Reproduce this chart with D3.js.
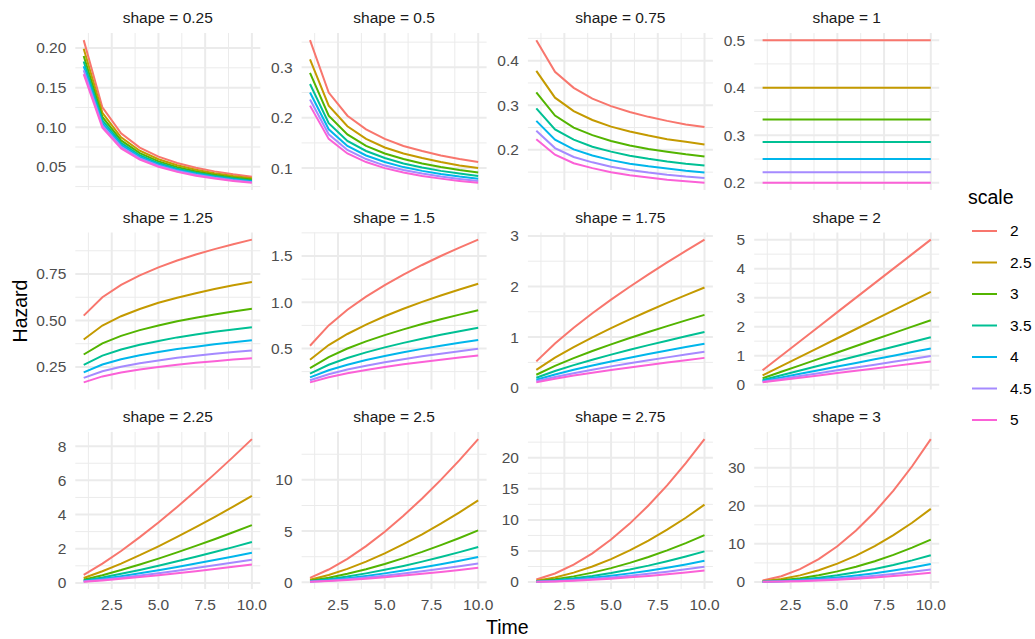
<!DOCTYPE html>
<html>
<head>
<meta charset="utf-8">
<script src="https://cdn.jsdelivr.net/npm/d3@7/dist/d3.min.js"></script>
<style>
  body { margin: 0; background: #fff; }
  text { font-family: "Liberation Sans", Arial, sans-serif; }
</style>
</head>
<body>
<script>
// weibull hazard by shape (facets) and scale (colour)
var times = [1, 2, 3, 4, 5, 6, 7, 8, 9, 10];
var scales = ["2", "2.5", "3", "3.5", "4", "4.5", "5"];
var shapes = ["0.25", "0.5", "0.75", "1", "1.25", "1.5", "1.75", "2", "2.25", "2.5", "2.75", "3"];
var colors = ["#F8766D", "#C49A00", "#53B400", "#00C094", "#00B6EB", "#A58AFF", "#FB61D7"];

// one row per scale, one value per time
var haz025 = [
  [0.210, 0.125, 0.0922, 0.0743, 0.0629, 0.0548, 0.0488, 0.0442, 0.0405, 0.0374],
  [0.199, 0.1182, 0.0872, 0.0703, 0.0595, 0.0519, 0.0462, 0.0418, 0.0383, 0.0354],
  [0.190, 0.1130, 0.0833, 0.0672, 0.0568, 0.0496, 0.0441, 0.0399, 0.0366, 0.0338],
  [0.183, 0.1087, 0.0802, 0.0646, 0.0547, 0.0477, 0.0425, 0.0384, 0.0352, 0.0325],
  [0.177, 0.1051, 0.0776, 0.0625, 0.0529, 0.0461, 0.0411, 0.0372, 0.0340, 0.0314],
  [0.172, 0.1021, 0.0753, 0.0607, 0.0513, 0.0448, 0.0399, 0.0361, 0.0330, 0.0305],
  [0.167, 0.0994, 0.0733, 0.0591, 0.0500, 0.0436, 0.0388, 0.0351, 0.0322, 0.0297]
];
var haz05 = [
  [0.354, 0.250, 0.204, 0.177, 0.158, 0.144, 0.134, 0.125, 0.118, 0.112],
  [0.316, 0.224, 0.183, 0.158, 0.141, 0.129, 0.120, 0.112, 0.105, 0.100],
  [0.289, 0.204, 0.167, 0.144, 0.129, 0.118, 0.109, 0.102, 0.0962, 0.0913],
  [0.267, 0.189, 0.154, 0.134, 0.120, 0.109, 0.101, 0.0945, 0.0891, 0.0845],
  [0.250, 0.177, 0.144, 0.125, 0.112, 0.102, 0.0945, 0.0884, 0.0833, 0.0791],
  [0.236, 0.167, 0.136, 0.118, 0.105, 0.0962, 0.0891, 0.0833, 0.0786, 0.0745],
  [0.224, 0.158, 0.129, 0.112, 0.100, 0.0913, 0.0845, 0.0791, 0.0745, 0.0707]
];
var haz075 = [
  [0.446, 0.375, 0.339, 0.315, 0.298, 0.285, 0.274, 0.265, 0.257, 0.251],
  [0.377, 0.317, 0.287, 0.267, 0.252, 0.241, 0.232, 0.224, 0.218, 0.212],
  [0.329, 0.277, 0.250, 0.233, 0.220, 0.210, 0.202, 0.196, 0.190, 0.185],
  [0.293, 0.246, 0.223, 0.207, 0.196, 0.187, 0.180, 0.174, 0.169, 0.165],
  [0.265, 0.223, 0.201, 0.1875, 0.177, 0.169, 0.163, 0.158, 0.153, 0.149],
  [0.243, 0.204, 0.184, 0.172, 0.162, 0.155, 0.149, 0.144, 0.140, 0.137],
  [0.224, 0.189, 0.170, 0.159, 0.150, 0.143, 0.138, 0.133, 0.1295, 0.126]
];
var haz1 = [
  [0.5, 0.5, 0.5, 0.5, 0.5, 0.5, 0.5, 0.5, 0.5, 0.5],
  [0.4, 0.4, 0.4, 0.4, 0.4, 0.4, 0.4, 0.4, 0.4, 0.4],
  [0.3333, 0.3333, 0.3333, 0.3333, 0.3333, 0.3333, 0.3333, 0.3333, 0.3333, 0.3333],
  [0.2857, 0.2857, 0.2857, 0.2857, 0.2857, 0.2857, 0.2857, 0.2857, 0.2857, 0.2857],
  [0.25, 0.25, 0.25, 0.25, 0.25, 0.25, 0.25, 0.25, 0.25, 0.25],
  [0.2222, 0.2222, 0.2222, 0.2222, 0.2222, 0.2222, 0.2222, 0.2222, 0.2222, 0.2222],
  [0.2, 0.2, 0.2, 0.2, 0.2, 0.2, 0.2, 0.2, 0.2, 0.2]
];
var haz125 = [
  [0.526, 0.625, 0.692, 0.743, 0.786, 0.823, 0.855, 0.884, 0.910, 0.935],
  [0.398, 0.473, 0.523, 0.562, 0.595, 0.622, 0.647, 0.669, 0.689, 0.707],
  [0.317, 0.377, 0.417, 0.448, 0.473, 0.496, 0.515, 0.532, 0.548, 0.563],
  [0.261, 0.311, 0.344, 0.369, 0.390, 0.409, 0.425, 0.439, 0.452, 0.464],
  [0.221, 0.263, 0.291, 0.3125, 0.330, 0.346, 0.359, 0.372, 0.383, 0.393],
  [0.191, 0.227, 0.251, 0.270, 0.285, 0.299, 0.310, 0.321, 0.330, 0.339],
  [0.167, 0.199, 0.220, 0.236, 0.250, 0.262, 0.272, 0.281, 0.290, 0.297]
];
var haz15 = [
  [0.530, 0.750, 0.919, 1.061, 1.186, 1.299, 1.403, 1.500, 1.591, 1.677],
  [0.379, 0.537, 0.657, 0.759, 0.849, 0.930, 1.004, 1.073, 1.138, 1.200],
  [0.289, 0.408, 0.500, 0.577, 0.645, 0.707, 0.764, 0.816, 0.866, 0.913],
  [0.229, 0.324, 0.397, 0.458, 0.512, 0.561, 0.606, 0.648, 0.687, 0.724],
  [0.1875, 0.265, 0.325, 0.375, 0.419, 0.459, 0.496, 0.530, 0.5625, 0.593],
  [0.157, 0.222, 0.272, 0.314, 0.351, 0.385, 0.416, 0.444, 0.471, 0.497],
  [0.134, 0.190, 0.232, 0.268, 0.300, 0.329, 0.355, 0.379, 0.402, 0.424]
];
var haz175 = [
  [0.520, 0.875, 1.186, 1.472, 1.740, 1.995, 2.239, 2.475, 2.703, 2.926],
  [0.352, 0.592, 0.803, 0.996, 1.177, 1.350, 1.515, 1.675, 1.830, 1.980],
  [0.256, 0.430, 0.583, 0.724, 0.856, 0.981, 1.101, 1.217, 1.330, 1.439],
  [0.195, 0.329, 0.445, 0.553, 0.653, 0.749, 0.841, 0.929, 1.015, 1.099],
  [0.155, 0.260, 0.353, 0.4375, 0.517, 0.593, 0.666, 0.736, 0.804, 0.870],
  [0.126, 0.212, 0.287, 0.356, 0.421, 0.483, 0.542, 0.599, 0.654, 0.708],
  [0.105, 0.176, 0.239, 0.296, 0.350, 0.401, 0.450, 0.498, 0.544, 0.589]
];
var haz2 = [
  [0.5, 1.0, 1.5, 2.0, 2.5, 3.0, 3.5, 4.0, 4.5, 5.0],
  [0.32, 0.64, 0.96, 1.28, 1.6, 1.92, 2.24, 2.56, 2.88, 3.2],
  [0.222, 0.444, 0.667, 0.889, 1.111, 1.333, 1.556, 1.778, 2.0, 2.222],
  [0.163, 0.327, 0.490, 0.653, 0.816, 0.980, 1.143, 1.306, 1.469, 1.633],
  [0.125, 0.25, 0.375, 0.5, 0.625, 0.75, 0.875, 1.0, 1.125, 1.25],
  [0.0988, 0.198, 0.296, 0.395, 0.494, 0.593, 0.691, 0.790, 0.889, 0.988],
  [0.08, 0.16, 0.24, 0.32, 0.40, 0.48, 0.56, 0.64, 0.72, 0.80]
];
var haz225 = [
  [0.473, 1.125, 1.868, 2.676, 3.537, 4.442, 5.386, 6.364, 7.373, 8.411],
  [0.286, 0.681, 1.130, 1.620, 2.141, 2.688, 3.260, 3.852, 4.463, 5.091],
  [0.190, 0.452, 0.750, 1.075, 1.420, 1.784, 2.163, 2.556, 2.961, 3.378],
  [0.134, 0.319, 0.530, 0.760, 1.004, 1.261, 1.529, 1.807, 2.093, 2.388],
  [0.0994, 0.2365, 0.393, 0.5625, 0.743, 0.934, 1.132, 1.338, 1.550, 1.768],
  [0.0763, 0.181, 0.301, 0.432, 0.570, 0.716, 0.869, 1.026, 1.189, 1.357],
  [0.0602, 0.143, 0.238, 0.340, 0.450, 0.565, 0.685, 0.810, 0.938, 1.070]
];
var haz25 = [
  [0.442, 1.250, 2.296, 3.536, 4.941, 6.495, 8.185, 10.000, 11.932, 13.975],
  [0.253, 0.716, 1.315, 2.024, 2.828, 3.718, 4.685, 5.724, 6.831, 8.000],
  [0.160, 0.454, 0.833, 1.283, 1.793, 2.357, 2.970, 3.629, 4.330, 5.071],
  [0.109, 0.309, 0.567, 0.873, 1.220, 1.603, 2.020, 2.468, 2.945, 3.450],
  [0.0781, 0.221, 0.406, 0.625, 0.873, 1.148, 1.447, 1.768, 2.109, 2.471],
  [0.0582, 0.165, 0.302, 0.466, 0.651, 0.855, 1.078, 1.317, 1.571, 1.840],
  [0.0447, 0.126, 0.232, 0.358, 0.500, 0.657, 0.828, 1.012, 1.207, 1.414]
];
var haz275 = [
  [0.409, 1.375, 2.796, 4.625, 6.834, 9.403, 12.315, 15.556, 19.117, 22.988],
  [0.221, 0.744, 1.513, 2.504, 3.700, 5.091, 6.667, 8.422, 10.349, 12.445],
  [0.134, 0.451, 0.917, 1.517, 2.241, 3.083, 4.038, 5.101, 6.269, 7.538],
  [0.0877, 0.295, 0.600, 0.993, 1.467, 2.018, 2.643, 3.339, 4.103, 4.933],
  [0.0608, 0.204, 0.416, 0.6875, 1.016, 1.398, 1.831, 2.312, 2.842, 3.417],
  [0.0440, 0.148, 0.301, 0.497, 0.735, 1.011, 1.324, 1.673, 2.056, 2.472],
  [0.0329, 0.111, 0.225, 0.372, 0.550, 0.757, 0.991, 1.252, 1.538, 1.850]
];
var haz3 = [
  [0.375, 1.5, 3.375, 6.0, 9.375, 13.5, 18.375, 24.0, 30.375, 37.5],
  [0.192, 0.768, 1.728, 3.072, 4.8, 6.912, 9.408, 12.288, 15.552, 19.2],
  [0.111, 0.444, 1.0, 1.778, 2.778, 4.0, 5.444, 7.111, 9.0, 11.111],
  [0.070, 0.280, 0.630, 1.120, 1.749, 2.519, 3.429, 4.478, 5.668, 6.997],
  [0.0469, 0.1875, 0.422, 0.75, 1.172, 1.6875, 2.297, 3.0, 3.797, 4.6875],
  [0.0329, 0.132, 0.296, 0.527, 0.823, 1.185, 1.613, 2.107, 2.667, 3.292],
  [0.024, 0.096, 0.216, 0.384, 0.6, 0.864, 1.176, 1.536, 1.944, 2.4]
];
var hazards = [haz025, haz05, haz075, haz1, haz125, haz15, haz175, haz2, haz225, haz25, haz275, haz3];

var yTickLabels = [
  ["0.05", "0.10", "0.15", "0.20"],
  ["0.1", "0.2", "0.3"],
  ["0.2", "0.3", "0.4"],
  ["0.2", "0.3", "0.4", "0.5"],
  ["0.25", "0.50", "0.75"],
  ["0.5", "1.0", "1.5"],
  ["0", "1", "2", "3"],
  ["0", "1", "2", "3", "4", "5"],
  ["0", "2", "4", "6", "8"],
  ["0", "5", "10"],
  ["0", "5", "10", "15", "20"],
  ["0", "10", "20", "30"]
];
var xTickLabels = ["2.5", "5.0", "7.5", "10.0"];

var W = 1035, H = 639;
var panelW = 185, panelH = 157;
var left0 = 75.3, colStep = 226.3;
var top0 = 33, rowStep = 199.5;
var grid = "#EBEBEB";

var svg = d3.select("body").append("svg")
  .attr("width", W)
  .attr("height", H);

var x = d3.scaleLinear()
  .domain([1 - 0.45, 10 + 0.45])
  .range([0, panelW]);

var xMajor = xTickLabels.map(Number);
var xMinor = [1.25, 3.75, 6.25, 8.75];

shapes.forEach(function(shape, i){
  var col = i % 4, row = Math.floor(i / 4);
  var g = svg.append("g")
    .attr("transform", "translate(" + (left0 + col * colStep) + "," + (top0 + row * rowStep) + ")");

  var data = hazards[i];
  var lo = d3.min(data, function(s){ return d3.min(s); }),
      hi = d3.max(data, function(s){ return d3.max(s); });
  var pad = (hi - lo) * 0.05;
  var y = d3.scaleLinear().domain([lo - pad, hi + pad]).range([panelH, 0]);

  var yMajor = yTickLabels[i].map(Number);
  var step = yMajor[1] - yMajor[0];
  var yMinor = [];
  for (var k = -1; k < yMajor.length; k++){
    var v = yMajor[0] + step * (k + 0.5);
    if (v >= lo - pad && v <= hi + pad) yMinor.push(v);
  }

  // minor grid
  g.selectAll(".ymin").data(yMinor).enter().append("line")
    .attr("x1", 0).attr("x2", panelW)
    .attr("y1", y).attr("y2", y)
    .attr("stroke", grid).attr("stroke-width", 1);
  g.selectAll(".xmin").data(xMinor).enter().append("line")
    .attr("x1", x).attr("x2", x)
    .attr("y1", 0).attr("y2", panelH)
    .attr("stroke", grid).attr("stroke-width", 1);
  // major grid
  g.selectAll(".ymaj").data(yMajor).enter().append("line")
    .attr("x1", 0).attr("x2", panelW)
    .attr("y1", y).attr("y2", y)
    .attr("stroke", grid).attr("stroke-width", 2);
  g.selectAll(".xmaj").data(xMajor).enter().append("line")
    .attr("x1", x).attr("x2", x)
    .attr("y1", 0).attr("y2", panelH)
    .attr("stroke", grid).attr("stroke-width", 2);

  // y tick labels
  g.selectAll(".ylab").data(yTickLabels[i]).enter().append("text")
    .attr("x", -9)
    .attr("y", function(d){ return y(+d); })
    .attr("dy", "0.35em")
    .attr("text-anchor", "end")
    .attr("font-size", 15.5)
    .attr("fill", "#4D4D4D")
    .text(function(d){ return d; });

  // x tick labels only for bottom row
  if (row == 2){
    g.selectAll(".xlab").data(xTickLabels).enter().append("text")
      .attr("x", function(d){ return x(+d); })
      .attr("y", panelH + 21)
      .attr("text-anchor", "middle")
      .attr("font-size", 15.5)
      .attr("fill", "#4D4D4D")
      .text(function(d){ return d; });
  }

  // strip
  g.append("text")
    .attr("x", panelW / 2)
    .attr("y", -10)
    .attr("text-anchor", "middle")
    .attr("font-size", 15.5)
    .attr("fill", "#1A1A1A")
    .text("shape = " + shape);

  var line = d3.line()
    .x(function(d, j){ return x(times[j]); })
    .y(function(d){ return y(d); });

  g.selectAll(".series").data(data).enter().append("path")
    .attr("d", line)
    .attr("fill", "none")
    .attr("stroke", function(d, j){ return colors[j]; })
    .attr("stroke-width", 2);
});

// axis titles
svg.append("text")
  .attr("x", left0 + (3 * colStep + panelW) / 2)
  .attr("y", 634)
  .attr("text-anchor", "middle")
  .attr("font-size", 19.5)
  .attr("fill", "#000")
  .text("Time");

svg.append("text")
  .attr("transform", "translate(27," + (top0 + (2 * rowStep + panelH) / 2) + ") rotate(-90)")
  .attr("text-anchor", "middle")
  .attr("font-size", 19.5)
  .attr("fill", "#000")
  .text("Hazard");

// legend
var legend = svg.append("g").attr("transform", "translate(968,0)");
legend.append("text")
  .attr("x", 0).attr("y", 204)
  .attr("font-size", 19.5)
  .attr("fill", "#000")
  .text("scale");

var keys = legend.selectAll(".key").data(scales).enter().append("g")
  .attr("transform", function(d, j){ return "translate(0," + (231 + j * 31.5) + ")"; });
keys.append("line")
  .attr("x1", 4).attr("x2", 29)
  .attr("stroke", function(d, j){ return colors[j]; })
  .attr("stroke-width", 2);
keys.append("text")
  .attr("x", 42)
  .attr("dy", "0.35em")
  .attr("font-size", 15.5)
  .attr("fill", "#000")
  .text(function(d){ return d; });
</script>
</body>
</html>
